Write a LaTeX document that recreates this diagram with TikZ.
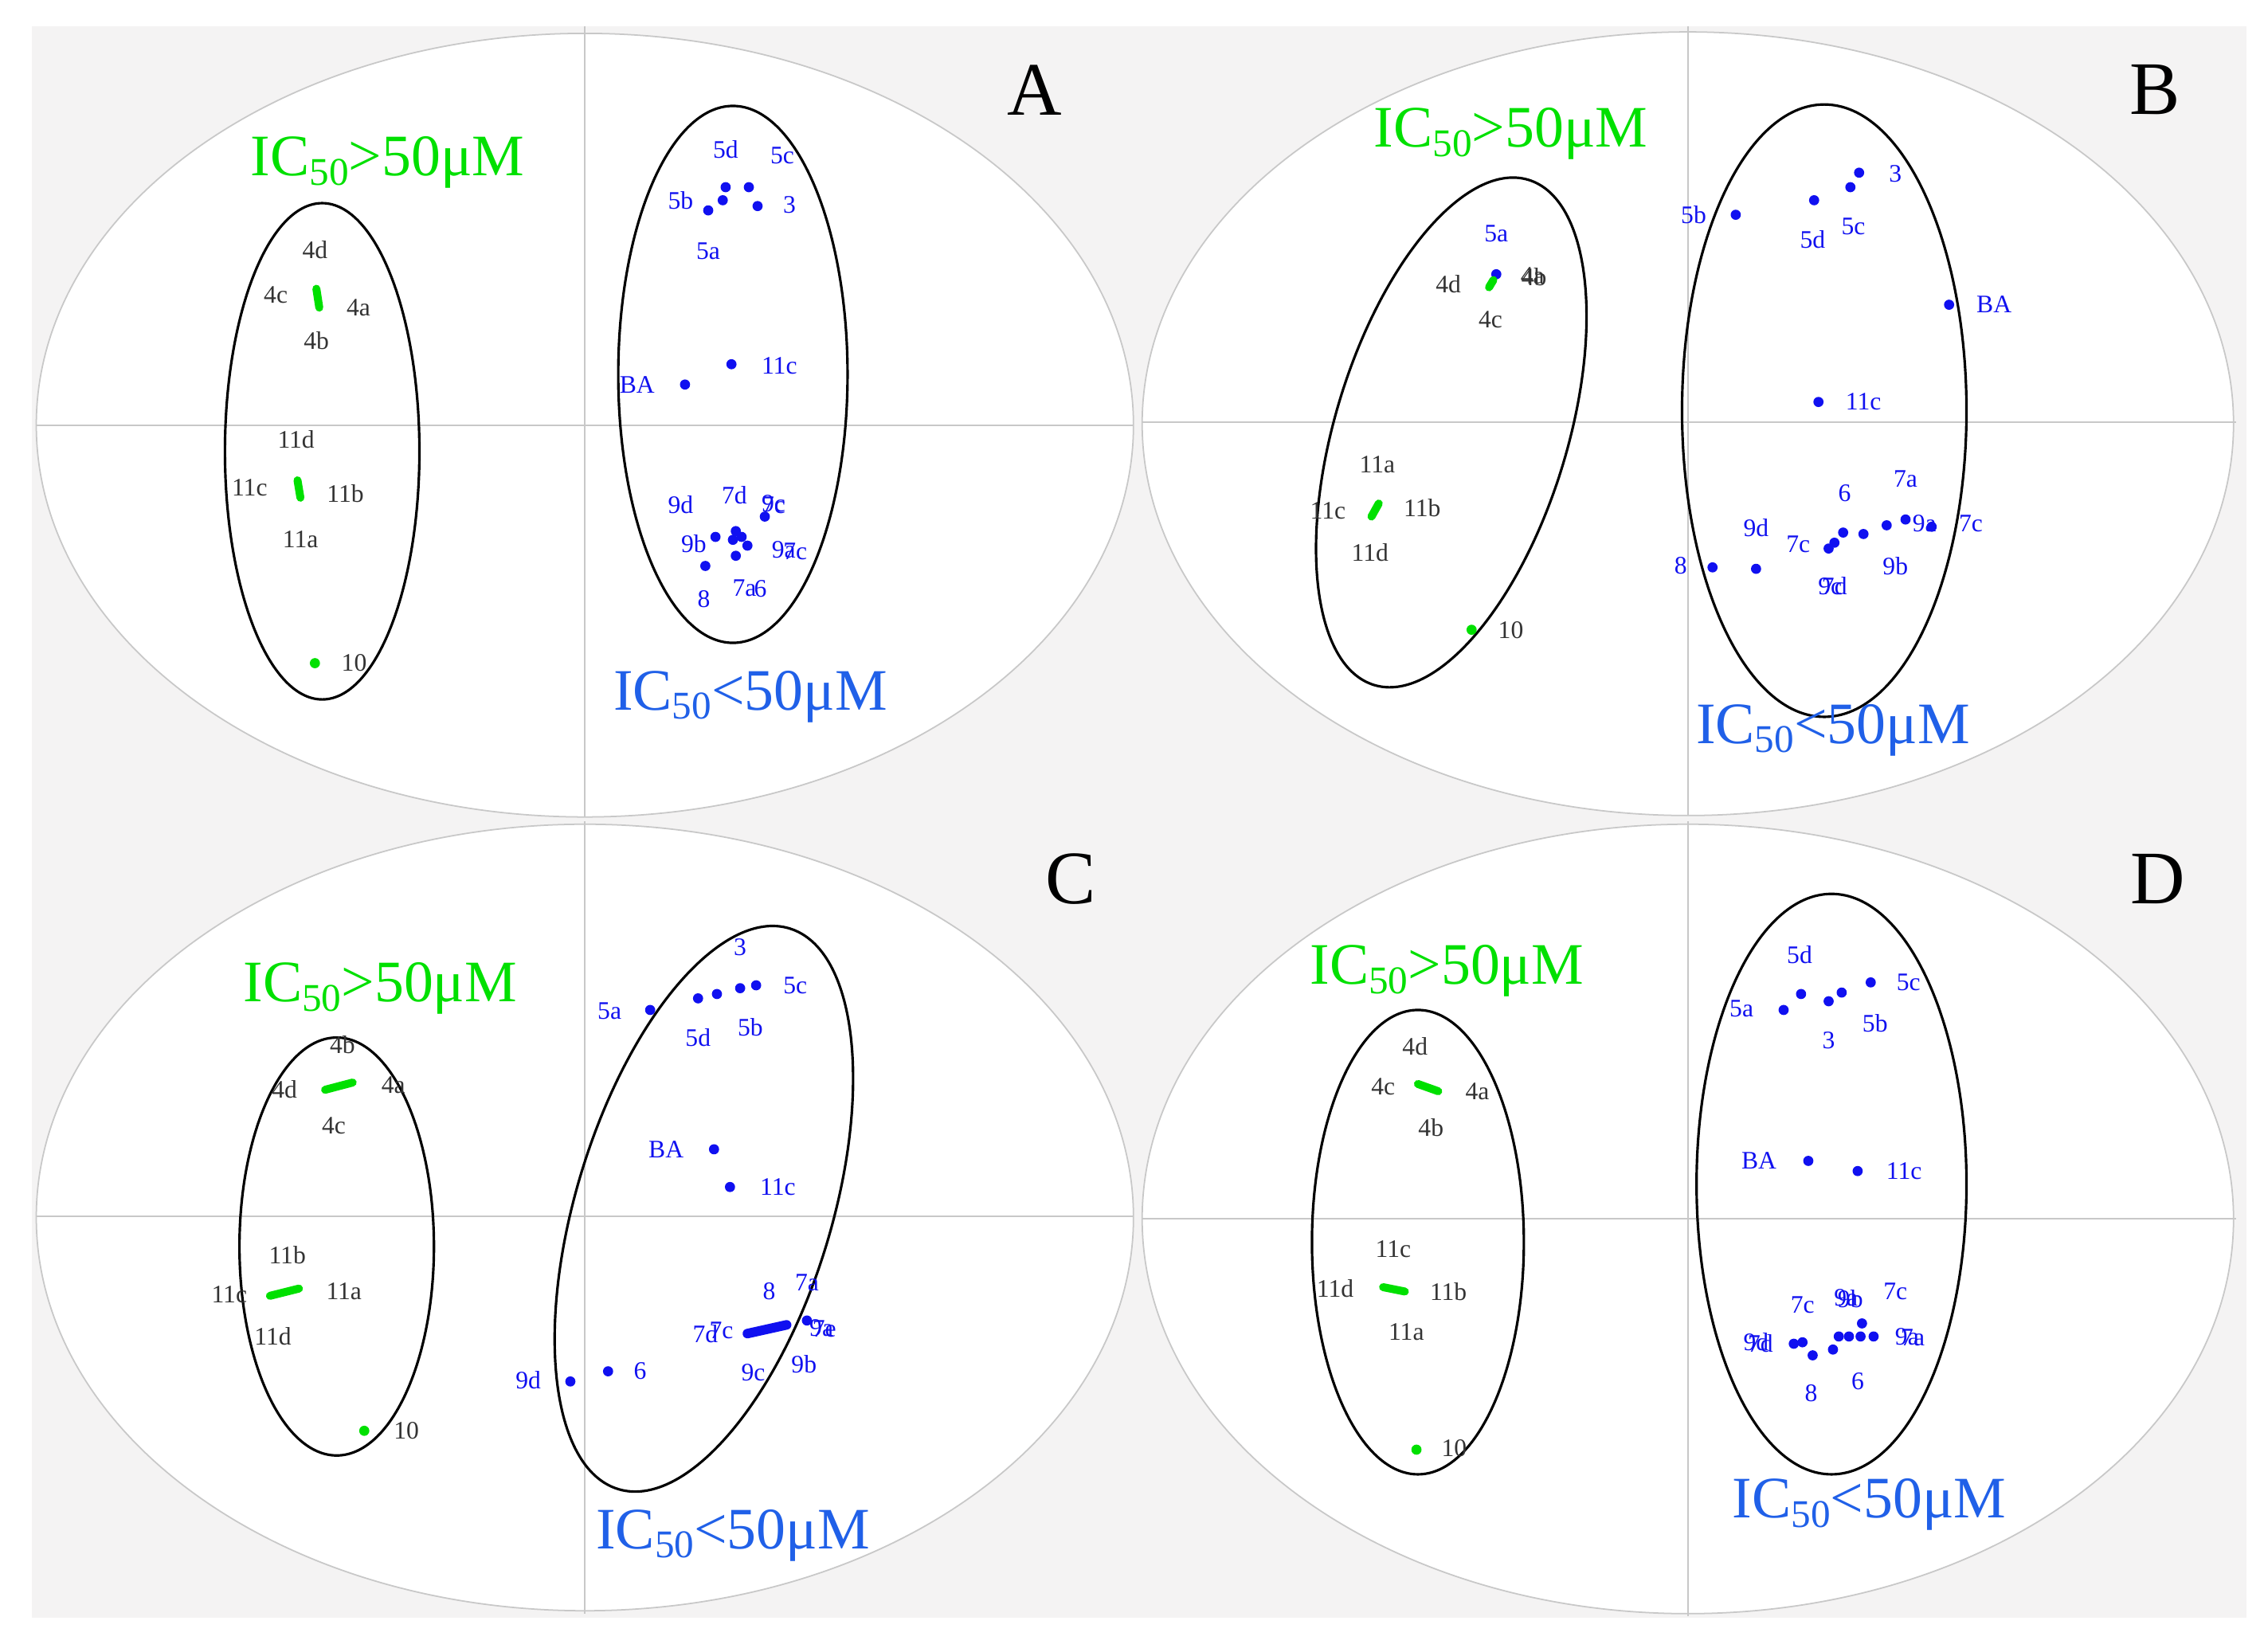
\documentclass[tikz,border=0pt]{standalone}
\usepackage{fontspec}
\setmainfont{Liberation Serif}
\definecolor{bgg}{HTML}{F4F3F3}
\definecolor{grn}{HTML}{00E000}
\definecolor{blu}{HTML}{1010F0}
\definecolor{ltb}{HTML}{2060E8}
\definecolor{axg}{HTML}{C8C8C8}
\newcommand\Lk[3]{\node[lk] at (#1,#2) {#3};}
\newcommand\Lb[3]{\node[lb] at (#1,#2) {#3};}
\newcommand\Dt[2]{\fill[blu] (#1,#2) circle (3.5);}
\newcommand\Str[4]{\draw[grn,line width=0.1cm,line cap=round] (#1,#2) -- (#3,#4);}
\newcommand\Gdt[2]{\fill[grn] (#1,#2) circle (3.5);}
\newcommand\Sub[1]{\raisebox{-0.35ex}{\fontsize{14}{14}\selectfont #1}}
\tikzset{
 lk/.style={inner sep=0pt,font=\fontsize{9}{9}\selectfont,text=black!80},
 lb/.style={inner sep=0pt,font=\fontsize{9}{9}\selectfont,text=blu},
 ttl/.style={inner sep=0pt,font=\fontsize{21}{21}\selectfont},
 lett/.style={inner sep=0pt,font=\fontsize{27}{27}\selectfont},
 outer/.style={draw=axg,line width=0.5pt,fill=white},
 ax/.style={draw=axg,line width=0.5pt},
 grp/.style={draw=black,line width=0.9pt}
}
\begin{document}
\begin{tikzpicture}[x=0.01822cm,y=-0.01822cm]
\useasboundingbox (0,0) rectangle (1560,1138);
\fill[white] (0,0) rectangle (1560,1138);
\fill[bgg] (22,18) rectangle (1548,1115);
% outer ellipses
\draw[outer] (403,293) ellipse (378 and 270);
\draw[outer] (1163,292) ellipse (376 and 270);
\draw[outer] (403,839) ellipse (378 and 271);
\draw[outer] (1163,840) ellipse (376 and 272);
% axes
\draw[ax] (403,18) -- (403,563); \draw[ax] (25,293) -- (781,293);
\draw[ax] (1163,18) -- (1163,562); \draw[ax] (787,291) -- (1541,291);
\draw[ax] (403,566) -- (403,1112); \draw[ax] (25,838) -- (781,838);
\draw[ax] (1163,566) -- (1163,1114); \draw[ax] (787,840) -- (1541,840);
% group ellipses
\draw[grp] (222,311) ellipse (67 and 171);
\draw[grp] (505,258) ellipse (79 and 185);
\draw[grp,rotate around={-17:(1000,298)}] (1000,298) ellipse (80 and 182);
\draw[grp] (1257,283) ellipse (98 and 211);
\draw[grp] (232,859) ellipse (67 and 144);
\draw[grp,rotate around={-17:(485,833)}] (485,833) ellipse (88 and 202);
\draw[grp] (977,856) ellipse (73 and 160);
\draw[grp] (1262,816) ellipse (93 and 200);
% titles
\node[ttl,text=grn] at (267,112) {IC\Sub{50}>50μM};
\node[ttl,text=ltb] at (517,480) {IC\Sub{50}<50μM};
\node[ttl,text=grn] at (1041,92) {IC\Sub{50}>50μM};
\node[ttl,text=ltb] at (1263,503) {IC\Sub{50}<50μM};
\node[ttl,text=grn] at (262,681) {IC\Sub{50}>50μM};
\node[ttl,text=ltb] at (505,1058) {IC\Sub{50}<50μM};
\node[ttl,text=grn] at (997,669) {IC\Sub{50}>50μM};
\node[ttl,text=ltb] at (1288,1037) {IC\Sub{50}<50μM};
\node[lett] at (713,62) {A};
\node[lett] at (1485,62) {B};
\node[lett] at (738,606) {C};
\node[lett] at (1487,606) {D};
% ---- Panel A
\Str{218}{199}{220}{212}\Str{205}{331}{207}{343}\Gdt{217}{457}
\Lk{217}{172}{4d}\Lk{190}{203}{4c}\Lk{247}{212}{4a}\Lk{218}{235}{4b}
\Lk{204}{303}{11d}\Lk{172}{336}{11c}\Lk{238}{340}{11b}\Lk{207}{372}{11a}\Lk{244}{457}{10}
\Dt{500}{129}\Dt{516}{129}\Dt{498}{138}\Dt{488}{145}\Dt{522}{142}
\Lb{500}{103}{5d}\Lb{539}{107}{5c}\Lb{469}{138}{5b}\Lb{544}{141}{3}\Lb{488}{173}{5a}
\Dt{504}{251}\Lb{537}{252}{11c}\Dt{472}{265}\Lb{439}{265}{BA}
\Lb{469}{348}{9d}\Lb{506}{341}{7d}\Lb{533}{347}{9c}\Lb{533}{348}{7c}
\Dt{527}{356}\Lb{478}{375}{9b}\Dt{493}{370}
\Dt{507}{366}\Dt{511}{370}\Dt{515}{376}\Dt{507}{383}\Dt{505}{372}
\Lb{540}{379}{9a}\Lb{548}{380}{7c}
\Dt{486}{390}\Lb{485}{413}{8}\Lb{513}{405}{7a}\Lb{524}{406}{6}
% ---- Panel B
\Dt{1031}{189}\Str{1026}{198}{1029}{193}
\Lb{1031}{161}{5a}\Lk{998}{196}{4d}\Lk{1056}{190}{4a}\Lk{1057}{191}{4b}\Lk{1027}{220}{4c}
\Lk{949}{320}{11a}\Lk{915}{352}{11c}\Lk{980}{350}{11b}\Lk{944}{381}{11d}
\Str{945}{356}{950}{347}\Gdt{1014}{434}\Lk{1041}{434}{10}
\Dt{1281}{119}\Dt{1275}{129}\Dt{1250}{138}\Dt{1196}{148}
\Lb{1306}{120}{3}\Lb{1167}{148}{5b}\Lb{1249}{165}{5d}\Lb{1277}{156}{5c}
\Dt{1343}{210}\Lb{1374}{210}{BA}\Dt{1253}{277}\Lb{1284}{277}{11c}
\Lb{1313}{330}{7a}\Lb{1271}{340}{6}\Lb{1210}{364}{9d}\Lb{1239}{375}{7c}\Lb{1158}{390}{8}
\Lb{1261}{404}{9c}\Lb{1264}{404}{7d}\Lb{1306}{390}{9b}\Lb{1326}{361}{9a}\Lb{1358}{361}{7c}
\Dt{1180}{391}\Dt{1210}{392}\Dt{1260}{378}\Dt{1264}{374}\Dt{1270}{367}\Dt{1284}{368}
\Dt{1300}{362}\Dt{1313}{358}\Dt{1331}{363}
% ---- Panel C
\Str{224}{751}{243}{746}\Str{186}{893}{206}{888}\Gdt{251}{986}
\Lk{236}{720}{4b}\Lk{196}{751}{4d}\Lk{271}{748}{4a}\Lk{230}{776}{4c}
\Lk{198}{865}{11b}\Lk{158}{892}{11c}\Lk{237}{890}{11a}\Lk{188}{921}{11d}\Lk{280}{986}{10}
\Lb{510}{653}{3}\Lb{548}{679}{5c}\Lb{420}{697}{5a}\Lb{481}{715}{5d}\Lb{517}{708}{5b}
\Dt{448}{696}\Dt{481}{688}\Dt{494}{685}\Dt{510}{681}\Dt{521}{679}
\Lb{459}{792}{BA}\Dt{492}{792}\Dt{503}{818}\Lb{536}{818}{11c}
\Lb{530}{890}{8}\Lb{556}{884}{7a}\Lb{486}{919}{7d}\Lb{497}{917}{7c}
\Lb{566}{915}{9a}\Lb{568}{916}{7e}\Lb{554}{940}{9b}\Lb{519}{946}{9c}
\draw[blu,line width=0.12cm,line cap=round] (515,919) -- (542,913);
\Dt{556}{910}
\Dt{419}{945}\Lb{441}{945}{6}\Dt{393}{952}\Lb{364}{951}{9d}
% ---- Panel D
\Str{977}{747}{991}{752}\Str{953}{887}{968}{890}\Gdt{976}{999}
\Lk{975}{721}{4d}\Lk{953}{749}{4c}\Lk{1018}{752}{4a}\Lk{986}{777}{4b}
\Lk{960}{861}{11c}\Lk{920}{888}{11d}\Lk{998}{890}{11b}\Lk{969}{918}{11a}\Lk{1002}{998}{10}
\Lb{1240}{658}{5d}\Lb{1315}{677}{5c}\Lb{1200}{695}{5a}\Lb{1292}{705}{5b}\Lb{1260}{717}{3}
\Dt{1229}{696}\Dt{1241}{685}\Dt{1260}{690}\Dt{1269}{684}\Dt{1289}{677}
\Lb{1212}{800}{BA}\Dt{1246}{800}\Dt{1280}{807}\Lb{1312}{807}{11c}
\Lb{1242}{899}{7c}\Lb{1272}{894}{9a}\Lb{1275}{895}{9b}\Lb{1306}{890}{7c}
\Lb{1210}{925}{9d}\Lb{1213}{926}{7d}\Lb{1314}{921}{9a}\Lb{1318}{922}{7a}
\Lb{1248}{960}{8}\Lb{1280}{952}{6}
\Dt{1236}{926}\Dt{1242}{925}\Dt{1249}{934}\Dt{1263}{930}\Dt{1267}{921}
\Dt{1274}{921}\Dt{1282}{921}\Dt{1291}{921}\Dt{1283}{912}
\end{tikzpicture}
\end{document}
